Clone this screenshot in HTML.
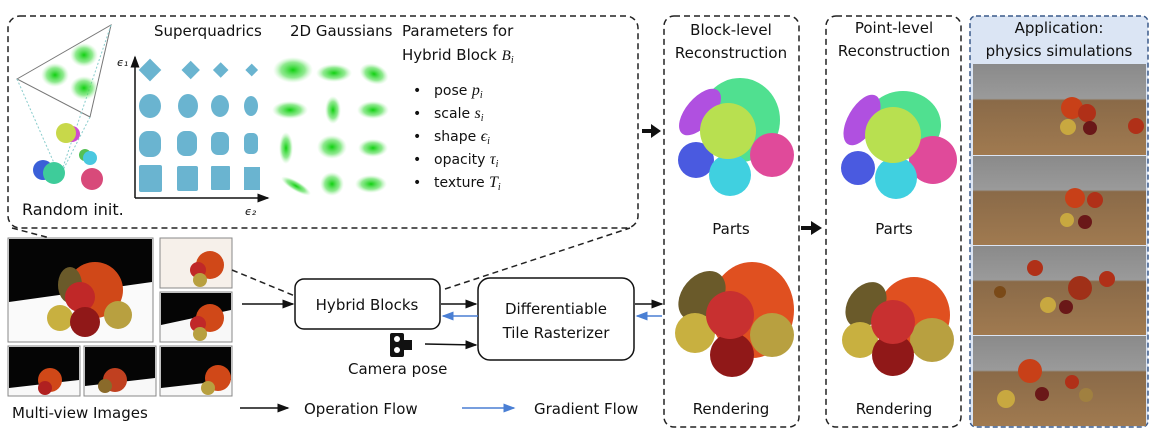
<!DOCTYPE html>
<html><head><meta charset="utf-8"><style>
body{margin:0;background:#fff;}
svg text{font-family:"DejaVu Sans","Liberation Sans",sans-serif;fill:#111;}
</style></head><body>
<svg width="1163" height="443" viewBox="0 0 1163 443" xmlns="http://www.w3.org/2000/svg">
<defs>
<radialGradient id="g"><stop offset="0" stop-color="#10d010"/><stop offset="0.6" stop-color="#60e060" stop-opacity="0.7"/><stop offset="1" stop-color="#b0f0b0" stop-opacity="0"/></radialGradient>
<marker id="ab" markerWidth="8" markerHeight="8" refX="7" refY="4" orient="auto"><path d="M0,1 L8,4 L0,7z" fill="#111"/></marker>
<marker id="abl" markerWidth="8" markerHeight="8" refX="7" refY="4" orient="auto"><path d="M0,1 L8,4 L0,7z" fill="#4a7fd4"/></marker>
<linearGradient id="sim" x1="0" y1="0" x2="0" y2="1"><stop offset="0" stop-color="#8a8a8a"/><stop offset="0.38" stop-color="#9a9a9a"/><stop offset="0.4" stop-color="#8a6a48"/><stop offset="1" stop-color="#a07a50"/></linearGradient>
</defs>
<!-- top dashed box -->
<rect x="8" y="16" width="630" height="212" rx="12" fill="none" stroke="#222" stroke-width="1.5" stroke-dasharray="6,4"/>
<!-- frustum -->
<polygon points="17,79 111,25 90,117" fill="#fff" stroke="#777" stroke-width="1"/>
<line x1="17" y1="79" x2="58" y2="172" stroke="#8cc" stroke-dasharray="2,2"/>
<line x1="90" y1="117" x2="62" y2="172" stroke="#8cc" stroke-dasharray="2,2"/>
<line x1="111" y1="25" x2="62" y2="170" stroke="#8cc" stroke-dasharray="2,2"/>
<ellipse cx="55" cy="75" rx="14" ry="12" fill="url(#g)"/><ellipse cx="84" cy="55" rx="14" ry="12" fill="url(#g)"/><ellipse cx="84" cy="88" rx="14" ry="12" fill="url(#g)"/>
<circle cx="72" cy="134" r="8" fill="#d04cd0"/><circle cx="66" cy="133" r="10" fill="#c8d84a"/>
<circle cx="85" cy="155" r="6" fill="#55c055"/><circle cx="90" cy="158" r="7" fill="#4ac8e0"/>
<circle cx="43" cy="170" r="10" fill="#3a60d8"/><circle cx="54" cy="173" r="11" fill="#3ecc9a"/>
<circle cx="92" cy="179" r="11" fill="#d84a7a"/>
<text x="22" y="215" font-size="16">Random init.</text>
<!-- superquadrics -->
<text x="154" y="36" font-size="15">Superquadrics</text>
<line x1="135" y1="198" x2="135" y2="57" stroke="#111" stroke-width="1.5" marker-end="url(#ab)"/>
<line x1="135" y1="198" x2="268" y2="198" stroke="#111" stroke-width="1.5" marker-end="url(#ab)"/>
<text x="117" y="66" font-size="11" font-style="italic" font-family="Liberation Serif">ϵ₁</text>
<text x="245" y="215" font-size="11" font-style="italic" font-family="Liberation Serif">ϵ₂</text>
<g fill="#6ab4d0">
<rect x="142" y="62" width="16" height="16" transform="rotate(45 150 70)"/><rect x="184" y="63" width="13" height="13" transform="rotate(45 190 70)"/><rect x="215" y="64" width="11" height="11" transform="rotate(45 220 70)"/><rect x="247" y="65" width="9" height="9" transform="rotate(45 251 70)"/>
<ellipse cx="150" cy="106" rx="11" ry="12"/><ellipse cx="188" cy="106" rx="10" ry="12"/><ellipse cx="220" cy="106" rx="9" ry="11"/><ellipse cx="251" cy="106" rx="7" ry="10"/>
<rect x="139" y="131" width="22" height="26" rx="9"/><rect x="177" y="131" width="20" height="25" rx="8"/><rect x="211" y="132" width="18" height="23" rx="7"/><rect x="244" y="133" width="14" height="21" rx="5"/>
<rect x="139" y="165" width="23" height="27" rx="2"/><rect x="177" y="166" width="21" height="25" rx="2"/><rect x="211" y="166" width="19" height="24" rx="1"/><rect x="244" y="167" width="16" height="23"/>
</g>
<!-- gaussians -->
<text x="290" y="36" font-size="15">2D Gaussians</text>
<g fill="url(#g)">
<ellipse cx="293" cy="70" rx="20" ry="13"/><ellipse cx="334" cy="73" rx="18" ry="9"/><ellipse cx="374" cy="74" rx="15" ry="10" transform="rotate(20 374 74)"/>
<ellipse cx="290" cy="110" rx="18" ry="9"/><ellipse cx="333" cy="110" rx="8" ry="14"/><ellipse cx="373" cy="110" rx="16" ry="9"/>
<ellipse cx="286" cy="148" rx="7" ry="16"/><ellipse cx="332" cy="147" rx="15" ry="12"/><ellipse cx="373" cy="148" rx="15" ry="9"/>
<ellipse cx="296" cy="186" rx="17" ry="5" transform="rotate(30 296 186)"/><ellipse cx="332" cy="184" rx="12" ry="12"/><ellipse cx="371" cy="184" rx="16" ry="9"/>
</g>
<!-- parameters -->
<text x="402" y="36" font-size="15">Parameters for</text>
<text x="402" y="60" font-size="15">Hybrid Block <tspan font-family="Liberation Serif" font-style="italic">B<tspan font-size="10" dy="3">i</tspan></tspan></text>
<g font-size="14">
<text x="413" y="95">•</text><text x="434" y="95">pose <tspan font-family="Liberation Serif" font-style="italic" font-size="16">p<tspan font-size="10" dy="3">i</tspan></tspan></text>
<text x="413" y="118">•</text><text x="434" y="118">scale <tspan font-family="Liberation Serif" font-style="italic" font-size="16">s<tspan font-size="10" dy="3">i</tspan></tspan></text>
<text x="413" y="141">•</text><text x="434" y="141">shape <tspan font-family="Liberation Serif" font-style="italic" font-size="16">ϵ<tspan font-size="10" dy="3">i</tspan></tspan></text>
<text x="413" y="164">•</text><text x="434" y="164">opacity <tspan font-family="Liberation Serif" font-style="italic" font-size="16">τ<tspan font-size="10" dy="3">i</tspan></tspan></text>
<text x="413" y="187">•</text><text x="434" y="187">texture <tspan font-family="Liberation Serif" font-style="italic" font-size="16">T<tspan font-size="10" dy="3">i</tspan></tspan></text>
</g>
<!-- thick arrow top -->
<path d="M642,129 h9 v-5 l10,7 l-10,7 v-5 h-9z" fill="#111"/>
<!-- photos -->
<g stroke="#888" stroke-width="1">
<rect x="8" y="238" width="145" height="104" fill="#fafafa"/>
<rect x="160" y="238" width="72" height="50" fill="#f6f0ea"/>
<rect x="160" y="292" width="72" height="50" fill="#f8f8f8"/>
<rect x="8" y="346" width="72" height="50" fill="#f8f8f8"/>
<rect x="84" y="346" width="72" height="50" fill="#f8f8f8"/>
<rect x="160" y="346" width="72" height="50" fill="#f8f8f8"/>
</g>
<polygon points="9,239 152,239 152,282 9,302" fill="#050505"/>
<polygon points="161,293 231,293 231,310 161,325" fill="#050505"/>
<polygon points="9,347 79,347 79,380 9,388" fill="#050505"/>
<polygon points="85,347 155,347 155,378 85,386" fill="#050505"/>
<polygon points="161,347 231,347 231,380 161,388" fill="#050505"/>
<g>
<circle cx="95" cy="290" r="28" fill="#d04818"/><ellipse cx="70" cy="285" rx="12" ry="18" fill="#6a5a2a"/>
<circle cx="80" cy="297" r="15" fill="#c02828"/><circle cx="60" cy="318" r="13" fill="#c8b040"/><circle cx="118" cy="315" r="14" fill="#b8a040"/><circle cx="85" cy="322" r="15" fill="#901818"/>
<circle cx="210" cy="265" r="14" fill="#d04818"/><circle cx="198" cy="270" r="8" fill="#c02828"/><circle cx="200" cy="280" r="7" fill="#b8a040"/>
<circle cx="210" cy="318" r="14" fill="#d04818"/><circle cx="198" cy="324" r="8" fill="#c02828"/><circle cx="200" cy="334" r="7" fill="#b8a040"/>
<circle cx="50" cy="380" r="12" fill="#d04818"/><circle cx="45" cy="388" r="7" fill="#b02020"/>
<circle cx="115" cy="380" r="12" fill="#c04020"/><circle cx="105" cy="386" r="7" fill="#8a6a2a"/>
<circle cx="218" cy="378" r="13" fill="#d04818"/><circle cx="208" cy="388" r="7" fill="#b8a040"/>
</g>
<text x="12" y="418" font-size="15">Multi-view Images</text>
<!-- dashed connectors from top box -->
<line x1="232" y1="270" x2="295" y2="296" stroke="#222" stroke-width="1.5" stroke-dasharray="6,4"/>
<line x1="445" y1="289" x2="630" y2="228" stroke="#222" stroke-width="1.5" stroke-dasharray="6,4"/>
<line x1="12" y1="228" x2="50" y2="238" stroke="#222" stroke-width="1.5" stroke-dasharray="6,4"/>
<!-- boxes -->
<rect x="295" y="279" width="145" height="50" rx="9" fill="#fff" stroke="#111" stroke-width="1.5"/>
<text x="367" y="310" font-size="15" text-anchor="middle">Hybrid Blocks</text>
<rect x="478" y="278" width="156" height="82" rx="12" fill="#fff" stroke="#111" stroke-width="1.5"/>
<text x="556" y="314" font-size="15" text-anchor="middle">Differentiable</text>
<text x="556" y="338" font-size="15" text-anchor="middle">Tile Rasterizer</text>
<line x1="242" y1="304" x2="293" y2="304" stroke="#111" stroke-width="1.5" marker-end="url(#ab)"/>
<line x1="441" y1="304" x2="476" y2="304" stroke="#111" stroke-width="1.5" marker-end="url(#ab)"/>
<line x1="478" y1="316" x2="443" y2="316" stroke="#4a7fd4" stroke-width="1.5" marker-end="url(#abl)"/>
<line x1="635" y1="304" x2="662" y2="304" stroke="#111" stroke-width="1.5" marker-end="url(#ab)"/>
<line x1="662" y1="316" x2="637" y2="316" stroke="#4a7fd4" stroke-width="1.5" marker-end="url(#abl)"/>
<line x1="425" y1="344" x2="476" y2="345" stroke="#111" stroke-width="1.5" marker-end="url(#ab)"/>
<rect x="390" y="333" width="14" height="24" rx="2" fill="#111"/><rect x="404" y="340" width="8" height="10" fill="#111"/>
<circle cx="397" cy="339" r="3" fill="#fff"/><circle cx="397" cy="350" r="3" fill="#fff"/>
<text x="348" y="374" font-size="15">Camera pose</text>
<!-- legend -->
<line x1="240" y1="408" x2="288" y2="408" stroke="#111" stroke-width="1.5" marker-end="url(#ab)"/>
<text x="304" y="414" font-size="15">Operation Flow</text>
<line x1="462" y1="408" x2="514" y2="408" stroke="#4a7fd4" stroke-width="1.5" marker-end="url(#abl)"/>
<text x="534" y="414" font-size="15">Gradient Flow</text>
<!-- block-level -->
<rect x="664" y="16" width="135" height="411" rx="10" fill="none" stroke="#222" stroke-width="1.5" stroke-dasharray="6,4"/>
<text x="731" y="35" font-size="15" text-anchor="middle">Block-level</text>
<text x="731" y="58" font-size="15" text-anchor="middle">Reconstruction</text>
<ellipse cx="740" cy="120" rx="40" ry="42" fill="#50e090"/>
<ellipse cx="700" cy="112" rx="14" ry="28" transform="rotate(40 700 112)" fill="#b050e0"/>
<circle cx="696" cy="160" r="18" fill="#4a5ae0"/><circle cx="772" cy="155" r="22" fill="#e04a9a"/>
<circle cx="730" cy="175" r="21" fill="#40d0e0"/><circle cx="728" cy="131" r="28" fill="#b8e050"/>
<text x="731" y="234" font-size="15" text-anchor="middle">Parts</text>
<ellipse cx="752" cy="310" rx="42" ry="48" fill="#e05020"/><ellipse cx="702" cy="296" rx="20" ry="28" transform="rotate(40 702 296)" fill="#6a5a2a"/>
<circle cx="695" cy="333" r="20" fill="#c8b040"/><circle cx="772" cy="335" r="22" fill="#b8a040"/><circle cx="732" cy="355" r="22" fill="#901818"/><circle cx="730" cy="315" r="24" fill="#c83030"/>
<text x="731" y="414" font-size="15" text-anchor="middle">Rendering</text>
<path d="M801,226 h10 v-5 l11,7 l-11,7 v-5 h-10z" fill="#111"/>
<!-- point-level -->
<rect x="826" y="16" width="135" height="411" rx="10" fill="none" stroke="#222" stroke-width="1.5" stroke-dasharray="6,4"/>
<text x="894" y="33" font-size="15" text-anchor="middle">Point-level</text>
<text x="894" y="56" font-size="15" text-anchor="middle">Reconstruction</text>
<ellipse cx="903" cy="125" rx="38" ry="34" fill="#50e090"/>
<ellipse cx="862" cy="120" rx="14" ry="28" transform="rotate(30 862 120)" fill="#b050e0"/>
<circle cx="858" cy="168" r="17" fill="#4a5ae0"/><circle cx="933" cy="160" r="24" fill="#e04a9a"/>
<circle cx="896" cy="178" r="21" fill="#40d0e0"/><circle cx="893" cy="135" r="28" fill="#b8e050"/>
<text x="894" y="234" font-size="15" text-anchor="middle">Parts</text>
<ellipse cx="914" cy="315" rx="36" ry="38" fill="#e05020"/><ellipse cx="866" cy="305" rx="18" ry="25" transform="rotate(35 866 305)" fill="#6a5a2a"/>
<circle cx="860" cy="340" r="18" fill="#c8b040"/><circle cx="932" cy="340" r="22" fill="#b8a040"/><circle cx="893" cy="355" r="21" fill="#901818"/><circle cx="893" cy="322" r="22" fill="#c83030"/>
<text x="894" y="414" font-size="15" text-anchor="middle">Rendering</text>
<!-- application -->
<rect x="970" y="16" width="178" height="411" rx="6" fill="#dbe5f4" stroke="#3a5a8a" stroke-width="1.5" stroke-dasharray="5,3"/>
<text x="1059" y="33" font-size="15" text-anchor="middle">Application:</text>
<text x="1059" y="56" font-size="15" text-anchor="middle">physics simulations</text>
<rect x="973" y="64" width="173" height="91" fill="url(#sim)"/>
<rect x="973" y="156" width="173" height="89" fill="url(#sim)"/>
<rect x="973" y="246" width="173" height="89" fill="url(#sim)"/>
<rect x="973" y="336" width="173" height="90" fill="url(#sim)"/>
<g>
<circle cx="1072" cy="108" r="11" fill="#c84018"/><circle cx="1087" cy="113" r="9" fill="#b03018"/><circle cx="1068" cy="127" r="8" fill="#c8a840"/><circle cx="1090" cy="128" r="7" fill="#6a1818"/><circle cx="1136" cy="126" r="8" fill="#b03018"/>
<circle cx="1075" cy="198" r="10" fill="#c84018"/><circle cx="1095" cy="200" r="8" fill="#b03018"/><circle cx="1067" cy="220" r="7" fill="#c8a840"/><circle cx="1085" cy="222" r="7" fill="#6a1818"/>
<circle cx="1035" cy="268" r="8" fill="#b03018"/><circle cx="1080" cy="288" r="12" fill="#a03018"/><circle cx="1107" cy="279" r="8" fill="#b03018"/><circle cx="1048" cy="305" r="8" fill="#c8a840"/><circle cx="1066" cy="307" r="7" fill="#6a1818"/><circle cx="1000" cy="292" r="6" fill="#7a4a18"/>
<circle cx="1030" cy="371" r="12" fill="#c84018"/><circle cx="1072" cy="382" r="7" fill="#b03018"/><circle cx="1006" cy="399" r="9" fill="#c8a840"/><circle cx="1042" cy="394" r="7" fill="#6a1818"/><circle cx="1086" cy="395" r="7" fill="#a08040"/>
</g>
</svg>
</body></html>
